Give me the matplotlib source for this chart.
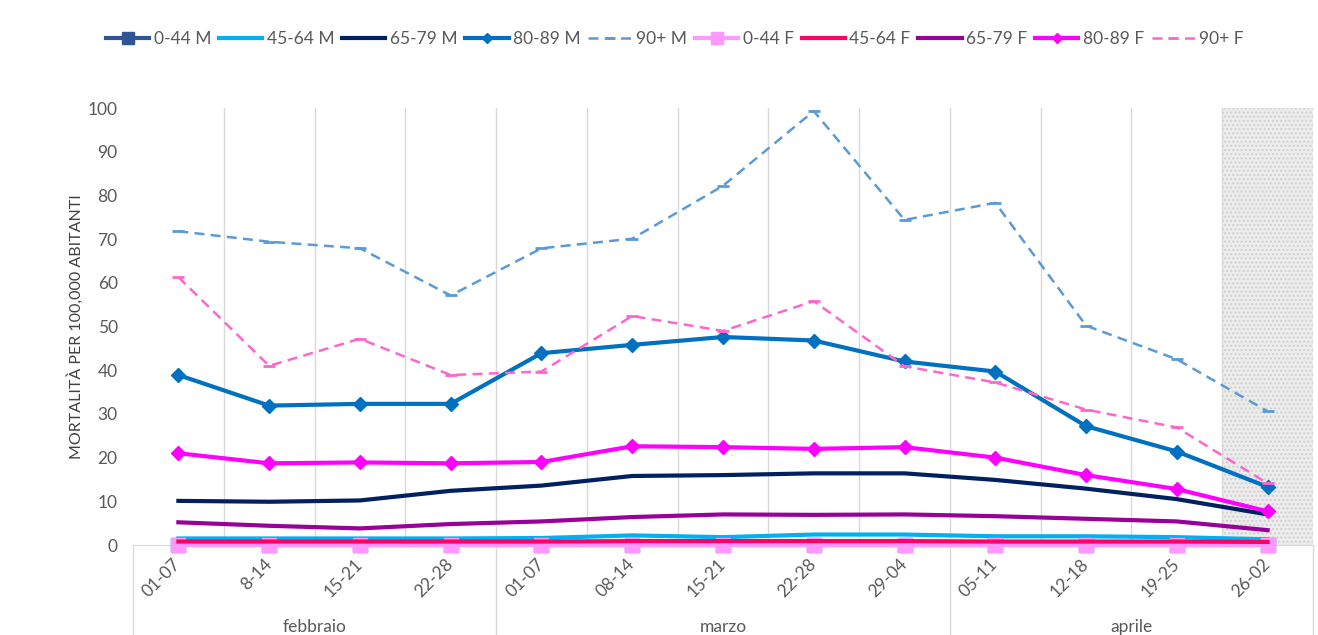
import numpy as np
import matplotlib.pyplot as plt
from matplotlib.lines import Line2D

plt.rcParams['font.family'] = ['Lato', 'DejaVu Sans']

# weekly categories and month groups
weeks = ['01-07', '8-14', '15-21', '22-28', '01-07', '08-14', '15-21', '22-28',
         '29-04', '05-11', '12-18', '19-25', '26-02']
months = ['febbraio', 'marzo', 'aprile']
month_sizes = [4, 5, 4]

# mortality per 100,000 inhabitants
m_0_44 = [0.1] * 13
m_45_64 = [1.5, 1.5, 1.5, 1.5, 1.6, 2.2, 1.8, 2.4, 2.4, 2.0, 2.0, 1.8, 1.3]
m_65_79 = [10.1, 9.9, 10.2, 12.4, 13.6, 15.8, 16.0, 16.4, 16.4, 14.9, 12.9, 10.5, 7.0]
m_80_89 = [38.9, 31.9, 32.3, 32.3, 43.9, 45.8, 47.6, 46.8, 42.0, 39.7, 27.2, 21.4, 13.3]
m_90 = [71.8, 69.4, 67.9, 57.1, 67.9, 70.1, 82.2, 99.3, 74.4, 78.3, 50.2, 42.5, 30.6]
f_0_44 = [0.05] * 13
f_45_64 = [0.8, 0.8, 0.8, 0.8, 0.8, 0.9, 0.9, 0.9, 0.9, 0.8, 0.8, 0.8, 0.7]
f_65_79 = [5.2, 4.4, 3.8, 4.8, 5.4, 6.4, 7.0, 6.9, 7.0, 6.6, 6.0, 5.4, 3.4]
f_80_89 = [21.0, 18.7, 18.9, 18.7, 19.0, 22.6, 22.4, 22.0, 22.4, 20.0, 16.0, 12.8, 7.7]
f_90 = [61.3, 41.0, 47.2, 38.9, 39.7, 52.4, 49.0, 55.8, 40.9, 37.2, 31.0, 26.9, 14.1]

x = np.arange(len(weeks))

fig = plt.figure(figsize=(13.18, 6.35), dpi=100)
ax = fig.add_axes([0.1009, 0.1417, 0.8953, 0.6882])

# shaded (incomplete) last week
ax.axvspan(11.5, 12.5, facecolor='#ececec', edgecolor='#cfcfcf', hatch='....', lw=0, zorder=0)

for i in range(1, len(weeks)):
    ax.axvline(i - 0.5, color='#d9d9d9', lw=1, zorder=0.5)

series = [
    ('0-44 M', m_0_44, dict(color='#2f5597', lw=3, marker='s', ms=10)),
    ('45-64 M', m_45_64, dict(color='#00b0f0', lw=3)),
    ('65-79 M', m_65_79, dict(color='#002060', lw=3)),
    ('80-89 M', m_80_89, dict(color='#0070c0', lw=3, marker='D', ms=7)),
    ('90+ M', m_90, dict(color='#5b9bd5', lw=1.8, ls=(0, (4, 2.5)), marker='_', ms=9, mew=2)),
    ('0-44 F', f_0_44, dict(color='#ff99ff', lw=3, marker='s', ms=10)),
    ('45-64 F', f_45_64, dict(color='#ff0066', lw=3)),
    ('65-79 F', f_65_79, dict(color='#990099', lw=3)),
    ('80-89 F', f_80_89, dict(color='#ff00ff', lw=3, marker='D', ms=7)),
    ('90+ F', f_90, dict(color='#ff66cc', lw=1.8, ls=(0, (4, 2.5)), marker='_', ms=9, mew=2)),
]
handles = []
for name, vals, style in series:
    h, = ax.plot(x, vals, label=name, clip_on=False, zorder=3, **style)
    handles.append(h)

ax.set_xlim(-0.5, 12.5)
ax.set_ylim(0, 100)
ax.set_yticks(range(0, 101, 10))
ax.tick_params(axis='y', length=0, labelsize=12.5, labelcolor='#595959', pad=11)
ax.set_xticks(x)
ax.set_xticklabels(weeks, rotation=45, ha='right', va='center', rotation_mode='anchor',
                   fontsize=12.5, color='#595959')
ax.tick_params(axis='x', length=0, pad=12)
for s in ['top', 'right', 'left']:
    ax.spines[s].set_visible(False)
ax.spines['bottom'].set_color('#d9d9d9')

ax.set_ylabel('MORTALITÀ PER 100,000 ABITANTI', fontsize=11.5, color='#404040', labelpad=2.5)

# month group labels and separators below the axis
trans = ax.get_xaxis_transform()
start = -0.5
bounds = [start]
for name, n in zip(months, month_sizes):
    ax.text(start + n / 2, -0.188, name, transform=trans, ha='center', va='center',
            fontsize=12.5, color='#595959')
    start += n
    bounds.append(start)
for b in bounds:
    ax.add_line(Line2D([b, b], [0, -0.21], transform=trans, color='#d9d9d9', lw=1, clip_on=False))

fig.legend(handles=handles, loc='upper center', bbox_to_anchor=(0.512, 0.975), ncol=10,
           frameon=False, fontsize=12.5, handlelength=2.5, columnspacing=0.45, handletextpad=0.25,
           labelcolor='#595959', markerscale=0.8)

fig.savefig('out.png', dpi=100)
